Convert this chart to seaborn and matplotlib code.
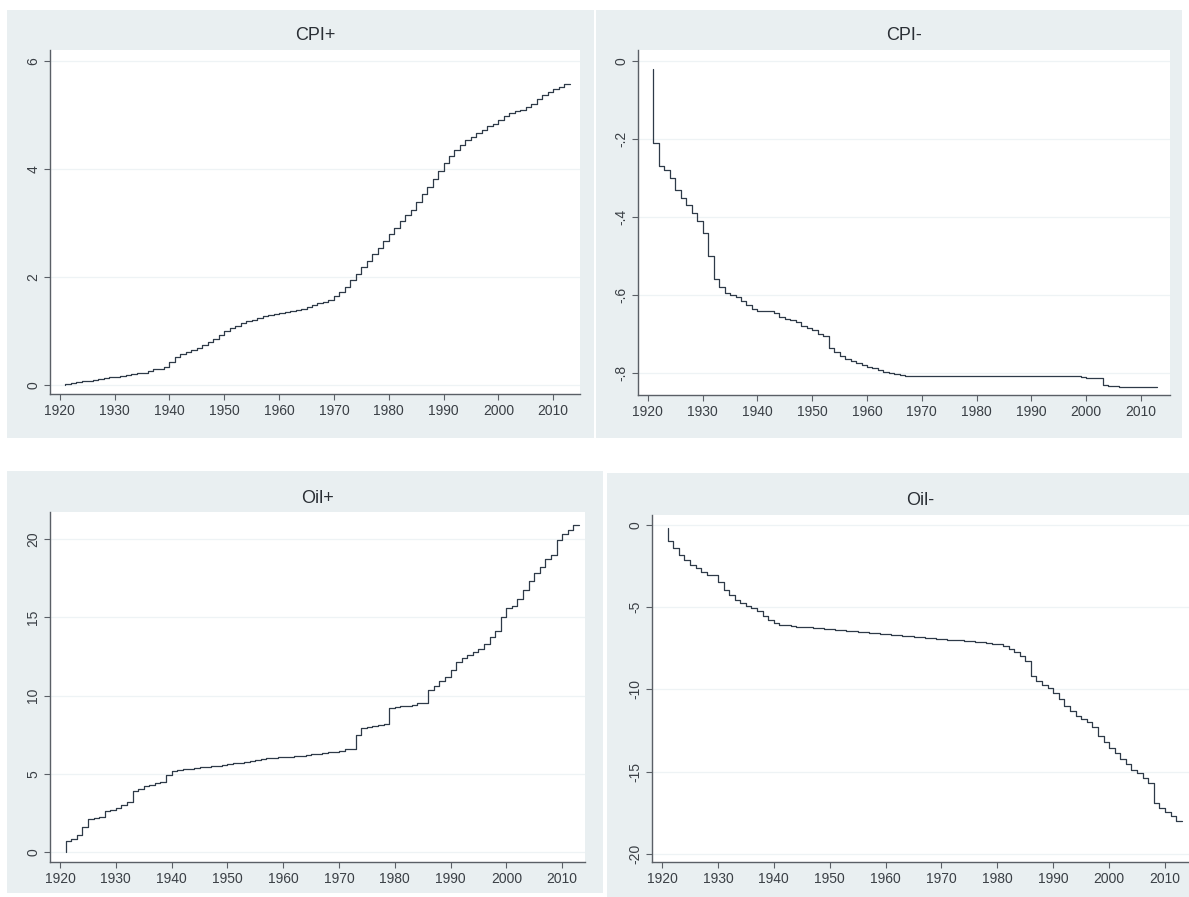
import matplotlib
matplotlib.use("Agg")
import matplotlib.pyplot as plt
from matplotlib.patches import Rectangle
from matplotlib.ticker import FixedLocator
import seaborn as sns
import pandas as pd

sns.set_theme(style="white")
plt.rcParams["font.family"] = ["Liberation Sans", "DejaVu Sans"]

# ---- data -------------------------------------------------------------
years = list(range(1921, 2014))

cpi_pos = [
    0.00, 0.02, 0.04, 0.05, 0.07, 0.08, 0.10, 0.12, 0.13, 0.14,   # 1921-1930
    0.15, 0.17, 0.19, 0.20, 0.22, 0.23, 0.26, 0.29, 0.30, 0.34,   # 1931-1940
    0.42, 0.52, 0.57, 0.62, 0.65, 0.69, 0.74, 0.80, 0.85, 0.92,   # 1941-1950
    1.00, 1.05, 1.10, 1.14, 1.18, 1.21, 1.24, 1.27, 1.29, 1.31,   # 1951-1960
    1.33, 1.35, 1.37, 1.39, 1.41, 1.45, 1.49, 1.52, 1.54, 1.58,   # 1961-1970
    1.64, 1.72, 1.82, 1.95, 2.06, 2.18, 2.30, 2.42, 2.54, 2.66,   # 1971-1980
    2.79, 2.91, 3.03, 3.14, 3.25, 3.39, 3.53, 3.67, 3.82, 3.96,   # 1981-1990
    4.12, 4.25, 4.35, 4.45, 4.53, 4.59, 4.66, 4.73, 4.79, 4.84,   # 1991-2000
    4.90, 4.98, 5.04, 5.07, 5.10, 5.15, 5.20, 5.29, 5.37, 5.43,   # 2001-2010
    5.48, 5.52, 5.57,                                             # 2011-2013
]

cpi_neg = [
    -0.020, -0.210, -0.270, -0.280, -0.300, -0.330, -0.350, -0.370, -0.390, -0.410,  # 1921-1930
    -0.440, -0.500, -0.560, -0.580, -0.595, -0.600, -0.605, -0.615, -0.625, -0.635,  # 1931-1940
    -0.640, -0.640, -0.640, -0.645, -0.655, -0.660, -0.665, -0.670, -0.680, -0.685,  # 1941-1950
    -0.690, -0.700, -0.705, -0.735, -0.745, -0.755, -0.765, -0.770, -0.775, -0.780,  # 1951-1960
    -0.785, -0.788, -0.792, -0.796, -0.800, -0.803, -0.805, -0.807, -0.807, -0.807,  # 1961-1970
    -0.807, -0.807, -0.807, -0.807, -0.807, -0.807, -0.807, -0.807, -0.807, -0.807,  # 1971-1980
    -0.807, -0.807, -0.807, -0.807, -0.807, -0.807, -0.807, -0.807, -0.807, -0.807,  # 1981-1990
    -0.807, -0.807, -0.807, -0.807, -0.807, -0.807, -0.807, -0.807, -0.807, -0.810,  # 1991-2000
    -0.812, -0.812, -0.812, -0.830, -0.832, -0.834, -0.836, -0.836, -0.836, -0.836,  # 2001-2010
    -0.836, -0.836, -0.836,                                                          # 2011-2013
]

oil_pos = [
    0.00, 0.70, 0.80, 1.10, 1.60, 2.10, 2.20, 2.25, 2.60, 2.70,          # 1921-1930
    2.80, 3.00, 3.20, 3.90, 4.00, 4.20, 4.30, 4.40, 4.45, 4.95,          # 1931-1940
    5.15, 5.25, 5.30, 5.33, 5.36, 5.40, 5.45, 5.48, 5.52, 5.57,          # 1941-1950
    5.62, 5.66, 5.70, 5.75, 5.79, 5.85, 5.92, 6.00, 6.02, 6.04,          # 1951-1960
    6.07, 6.10, 6.13, 6.16, 6.20, 6.24, 6.28, 6.32, 6.36, 6.40,          # 1961-1970
    6.48, 6.57, 6.60, 7.50, 7.90, 8.00, 8.05, 8.10, 8.20, 9.20,          # 1971-1980
    9.25, 9.30, 9.35, 9.42, 9.50, 9.55, 10.35, 10.60, 10.90, 11.20,      # 1981-1990
    11.60, 12.15, 12.40, 12.60, 12.80, 13.00, 13.30, 13.75, 14.10, 15.05,  # 1991-2000
    15.60, 15.70, 16.20, 16.75, 17.30, 17.80, 18.20, 18.70, 19.00, 19.96,  # 2001-2010
    20.30, 20.60, 20.90,                                                  # 2011-2013
]

oil_neg = [
    -0.20, -1.00, -1.40, -1.80, -2.10, -2.40, -2.60, -2.85, -3.05, -3.05,   # 1921-1930
    -3.45, -3.95, -4.25, -4.55, -4.75, -4.95, -5.05, -5.25, -5.55, -5.75,   # 1931-1940
    -5.95, -6.05, -6.10, -6.15, -6.18, -6.20, -6.23, -6.26, -6.29, -6.32,   # 1941-1950
    -6.35, -6.38, -6.41, -6.44, -6.47, -6.50, -6.53, -6.56, -6.59, -6.62,   # 1951-1960
    -6.65, -6.68, -6.71, -6.74, -6.77, -6.80, -6.83, -6.86, -6.89, -6.92,   # 1961-1970
    -6.95, -6.97, -6.99, -7.01, -7.03, -7.05, -7.09, -7.13, -7.17, -7.21,   # 1971-1980
    -7.25, -7.35, -7.55, -7.70, -7.95, -8.25, -9.20, -9.50, -9.70, -9.90,   # 1981-1990
    -10.20, -10.60, -11.00, -11.30, -11.60, -11.80, -12.00, -12.30, -12.80, -13.20,  # 1991-2000
    -13.55, -13.85, -14.25, -14.55, -14.90, -15.10, -15.40, -15.70, -16.90, -17.20,  # 2001-2010
    -17.45, -17.70, -18.00,                                                         # 2011-2013
]

titles = ["CPI+", "CPI-", "Oil+", "Oil-"]
x_ticks = [1920, 1930, 1940, 1950, 1960, 1970, 1980, 1990, 2000, 2010]
y_ticks = [
    [0, 2, 4, 6],
    [-0.8, -0.6, -0.4, -0.2, 0],
    [0, 5, 10, 15, 20],
    [-20, -15, -10, -5, 0],
]
y_tick_labels = [
    ["0", "2", "4", "6"],
    ["-.8", "-.6", "-.4", "-.2", "0"],
    ["0", "5", "10", "15", "20"],
    ["-20", "-15", "-10", "-5", "0"],
]

# ---- layout (pixel boxes: left, top, right, bottom) --------------------
W, H = 1189, 897
panel_boxes = [(7, 10, 594, 438), (596, 10, 1182, 438),
               (7, 471, 603, 893), (607, 473, 1189, 897)]
axes_boxes = [(50, 50, 580, 394), (638, 50, 1170, 395),
              (50, 512, 585, 862), (652, 515, 1189, 862)]
x_limits = [(1918.2, 2014.9), (1918.2, 2015.3), (1918.2, 2014.1), (1918.2, 2014.3)]
y_limits = [(-0.167, 6.204), (-0.856, 0.028), (-0.64, 21.73), (-20.49, 0.61)]
title_y = [36, 36, 498, 500]

panel_bg = "#E9EFF1"
line_color = "#2E3A48"
axis_color = "#5A5F66"
text_color = "#3A3F45"


def frac(box):
    l, t, r, b = box
    return [l / W, 1 - b / H, (r - l) / W, (b - t) / H]


fig = plt.figure(figsize=(W / 100, H / 100), dpi=100)
fig.patch.set_facecolor("white")

# grey outer regions behind each graph
for pb in panel_boxes:
    l, b, w, h = frac(pb)
    fig.add_artist(Rectangle((l, b), w, h, transform=fig.transFigure,
                             facecolor=panel_bg, edgecolor="none", zorder=-5))

series = [cpi_pos, cpi_neg, oil_pos, oil_neg]

for i in range(4):
    ax = fig.add_axes(frac(axes_boxes[i]))
    ax.set_zorder(1)
    ax.set_facecolor("white")
    df = pd.DataFrame({"year": years, "value": series[i]})
    sns.lineplot(data=df, x="year", y="value", ax=ax, estimator=None,
                 drawstyle="steps-pre", color=line_color, linewidth=0.9)
    ax.set_xlim(*x_limits[i])
    ax.set_ylim(*y_limits[i])
    ax.xaxis.set_major_locator(FixedLocator(x_ticks))
    ax.set_xticklabels([str(v) for v in x_ticks], fontsize=10, color=text_color)
    ax.yaxis.set_major_locator(FixedLocator(y_ticks[i]))
    ax.set_yticklabels(y_tick_labels[i], fontsize=10, color=text_color,
                       rotation=90, va="center")
    for yv in y_ticks[i]:
        ax.axhline(yv, color="#EEF3F5", linewidth=0.9, zorder=0)
    ax.set_xlabel("")
    ax.set_ylabel("")
    ax.grid(False)
    for side in ("top", "right"):
        ax.spines[side].set_visible(False)
    for side in ("left", "bottom"):
        ax.spines[side].set_visible(True)
        ax.spines[side].set_color(axis_color)
        ax.spines[side].set_linewidth(1.0)
    ax.tick_params(axis="both", which="major", direction="out", length=4,
                   width=0.8, color=axis_color, pad=3,
                   bottom=True, left=True)
    l, t, r, b = axes_boxes[i]
    fig.text((l + r) / 2 / W, 1 - title_y[i] / H, titles[i], ha="center",
             va="center", fontsize=13, color="#2A2F35", zorder=3)

fig.savefig("out.png", dpi=100, facecolor="white")
